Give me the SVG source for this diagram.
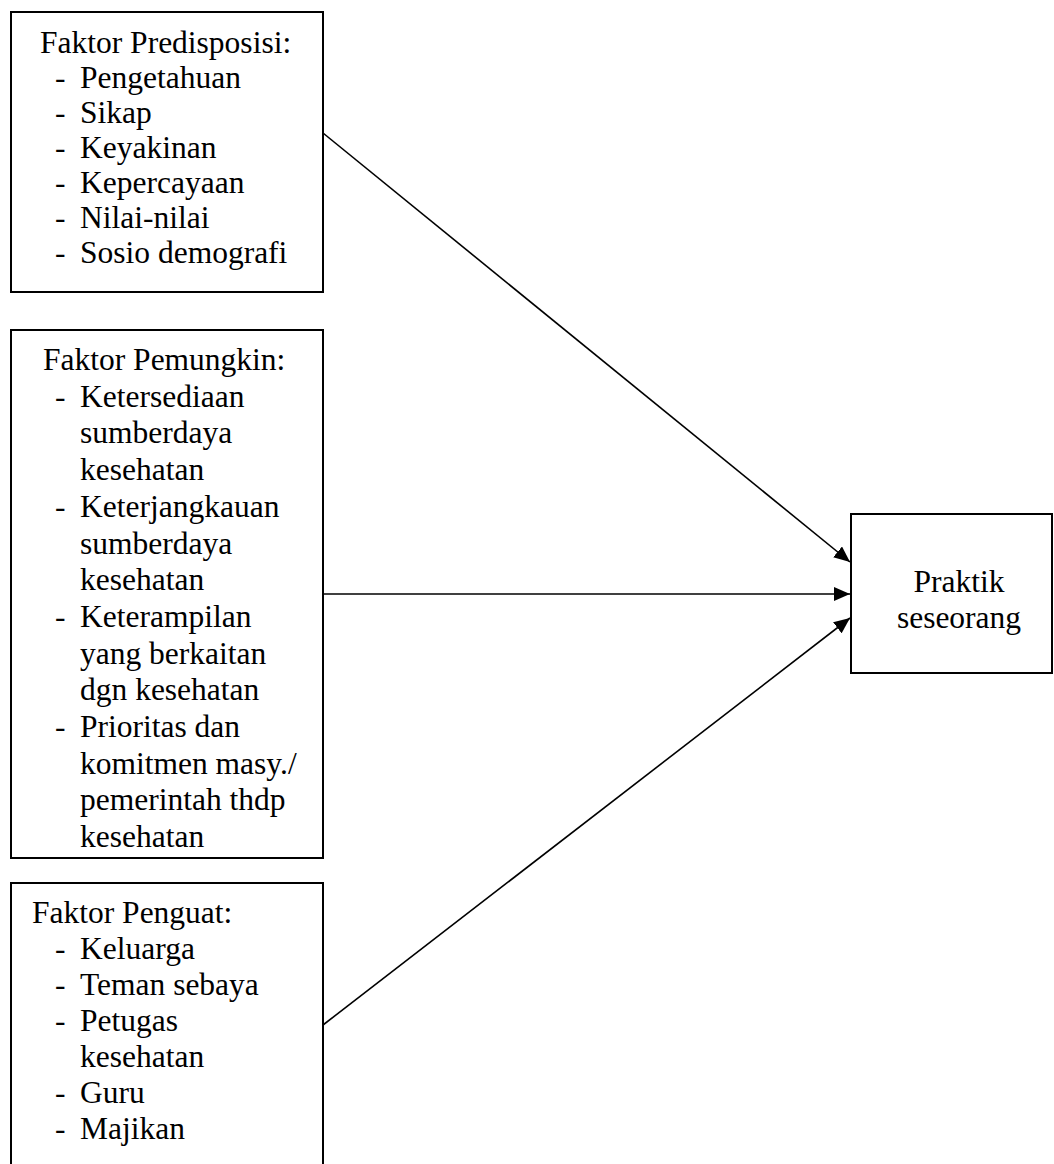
<svg xmlns="http://www.w3.org/2000/svg" width="1054" height="1164" viewBox="0 0 1054 1164">
<defs>
<style>
.box{fill:#fff;stroke:#000;stroke-width:2}
.t{font-family:"Liberation Serif","Times New Roman",serif;font-size:31.5px;fill:#000}
.c{stroke:#000;stroke-width:1.6;fill:none}
</style>
<marker id="ah" markerUnits="userSpaceOnUse" markerWidth="17" markerHeight="14" refX="16" refY="7" orient="auto">
<path d="M0,0 L16,7 L0,14 Z" fill="#000"/>
</marker>
</defs>
<rect width="1054" height="1164" fill="#fff"/>
<g id="connectors">
<line class="c" x1="323" y1="133" x2="850" y2="562" marker-end="url(#ah)"/>
<line class="c" x1="323" y1="594" x2="850" y2="594" marker-end="url(#ah)"/>
<line class="c" x1="323" y1="1025" x2="850" y2="618" marker-end="url(#ah)"/>
</g>
<g id="predisposisi">
<rect class="box" x="11" y="12" width="312" height="280"/>
<text class="t" x="40" y="53">Faktor Predisposisi:</text>
<text class="t" x="55" y="88">-</text><text class="t" x="80" y="88">Pengetahuan</text>
<text class="t" x="55" y="123">-</text><text class="t" x="80" y="123">Sikap</text>
<text class="t" x="55" y="158">-</text><text class="t" x="80" y="158">Keyakinan</text>
<text class="t" x="55" y="193">-</text><text class="t" x="80" y="193">Kepercayaan</text>
<text class="t" x="55" y="228">-</text><text class="t" x="80" y="228">Nilai-nilai</text>
<text class="t" x="55" y="263">-</text><text class="t" x="80" y="263">Sosio demografi</text>
</g>
<g id="pemungkin">
<rect class="box" x="11" y="330" width="312" height="528"/>
<text class="t" x="43" y="370">Faktor Pemungkin:</text>
<text class="t" x="55" y="406.7">-</text><text class="t" x="80" y="406.7">Ketersediaan</text>
<text class="t" x="80" y="443.4">sumberdaya</text>
<text class="t" x="80" y="480.1">kesehatan</text>
<text class="t" x="55" y="516.8">-</text><text class="t" x="80" y="516.8">Keterjangkauan</text>
<text class="t" x="80" y="553.5">sumberdaya</text>
<text class="t" x="80" y="590.2">kesehatan</text>
<text class="t" x="55" y="626.9">-</text><text class="t" x="80" y="626.9">Keterampilan</text>
<text class="t" x="80" y="663.6">yang berkaitan</text>
<text class="t" x="80" y="700.3">dgn kesehatan</text>
<text class="t" x="55" y="737">-</text><text class="t" x="80" y="737">Prioritas dan</text>
<text class="t" x="80" y="773.7">komitmen masy./</text>
<text class="t" x="80" y="810.4">pemerintah thdp</text>
<text class="t" x="80" y="847">kesehatan</text>
</g>
<g id="penguat">
<rect class="box" x="11" y="883" width="312" height="300"/>
<text class="t" x="32" y="923">Faktor Penguat:</text>
<text class="t" x="55" y="959">-</text><text class="t" x="80" y="959">Keluarga</text>
<text class="t" x="55" y="995">-</text><text class="t" x="80" y="995">Teman sebaya</text>
<text class="t" x="55" y="1031">-</text><text class="t" x="80" y="1031">Petugas</text>
<text class="t" x="80" y="1067">kesehatan</text>
<text class="t" x="55" y="1103">-</text><text class="t" x="80" y="1103">Guru</text>
<text class="t" x="55" y="1139">-</text><text class="t" x="80" y="1139">Majikan</text>
</g>
<g id="praktik">
<rect class="box" x="851" y="514" width="201" height="159"/>
<text class="t" x="959" y="592" text-anchor="middle">Praktik</text>
<text class="t" x="959" y="628" text-anchor="middle">seseorang</text>
</g>
</svg>
